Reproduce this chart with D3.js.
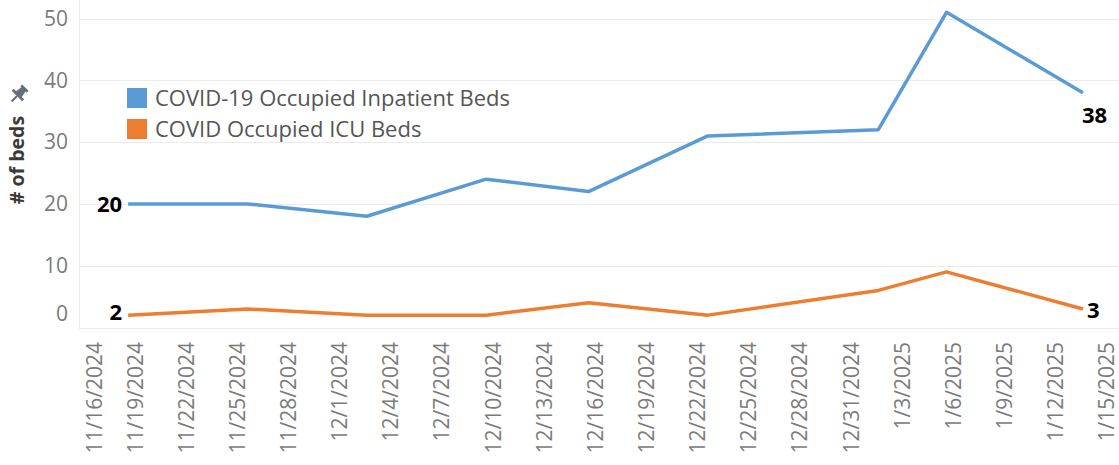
<!DOCTYPE html>
<html>
<head>
<meta charset="utf-8">
<script src="https://cdn.jsdelivr.net/npm/d3@7"></script>
<style>
  body { margin: 0; background: #fff; }
  svg { display: block; font-family: "Open Sans", "Noto Sans", sans-serif; }
</style>
</head>
<body>
<div id="chart"></div>
<script>
// data
var dates = ["11/19/2024", "11/26/2024", "12/3/2024", "12/10/2024", "12/16/2024",
             "12/23/2024", "1/2/2025", "1/6/2025", "1/14/2025"];
var inpatient = [20, 20, 18, 24, 22, 31, 32, 51, 38];
var icu = [2, 3, 2, 2, 4, 2, 6, 9, 3];
var seriesNames = ["COVID-19 Occupied Inpatient Beds", "COVID Occupied ICU Beds"];
var seriesColors = ["#5b9bd5", "#ed7d31"];
var yTicks = [0, 10, 20, 30, 40, 50];
var xTickLabels = ["11/16/2024", "11/19/2024", "11/22/2024", "11/25/2024", "11/28/2024",
                   "12/1/2024", "12/4/2024", "12/7/2024", "12/10/2024", "12/13/2024",
                   "12/16/2024", "12/19/2024", "12/22/2024", "12/25/2024", "12/28/2024",
                   "12/31/2024", "1/3/2025", "1/6/2025", "1/9/2025", "1/12/2025", "1/15/2025"];

var width = 1119, height = 465;
var parse = d3.timeParse("%m/%d/%Y");

var x = d3.scaleTime()
          .domain([parse("11/16/2024"), parse("1/16/2025")])
          .range([77, 1117]);
var y = d3.scaleLinear()
          .domain([0, 50])
          .range([327.5, 18.5]);

var svg = d3.select("#chart").append("svg")
            .attr("width", width)
            .attr("height", height);

// gridlines
svg.append("g").selectAll("line")
   .data(yTicks)
   .enter().append("line")
   .attr("x1", 79).attr("x2", width)
   .attr("y1", function(d) { return Math.round(y(d)) + 0.5; })
   .attr("y2", function(d) { return Math.round(y(d)) + 0.5; })
   .attr("stroke", "#ebebeb")
   .attr("stroke-width", 1);

// pane left border
svg.append("line")
   .attr("x1", 79.5).attr("x2", 79.5)
   .attr("y1", 0).attr("y2", 328)
   .attr("stroke", "#ebebeb");

// y tick labels (the 0 label is pushed up to stay in the pane)
svg.append("g").selectAll("text")
   .data(yTicks)
   .enter().append("text")
   .attr("x", 68)
   .attr("y", function(d) { return Math.min(y(d), y(0) - 14); })
   .attr("dy", "0.35em")
   .attr("text-anchor", "end")
   .attr("font-size", 21)
   .attr("fill", "#7b7b7b")
   .text(function(d) { return d; });

// x tick labels, rotated
svg.append("g").selectAll("text")
   .data(xTickLabels)
   .enter().append("text")
   .attr("transform", function(d) {
     var px = Math.max(x(parse(d)) + 7, 95);
     return "translate(" + px + ",342) rotate(-90)";
   })
   .attr("dy", "0.35em")
   .attr("text-anchor", "end")
   .attr("font-size", 21)
   .attr("fill", "#7b7b7b")
   .text(function(d) { return d; });

// y axis title + pin
svg.append("text")
   .attr("transform", "translate(17,160) rotate(-90)")
   .attr("dy", "0.35em")
   .attr("text-anchor", "middle")
   .attr("font-size", 19.5)
   .attr("font-weight", "bold")
   .attr("fill", "#3a3a3a")
   .text("# of beds");

var pin = svg.append("g")
   .attr("transform", "translate(18,95) rotate(45) scale(1.3)")
   .attr("fill", "#646e7c");
pin.append("path")
   .attr("d", "M-3.5,-8 h7 v2 h-1.2 l0.8,5 h2.6 v2.2 h-11.4 v-2.2 h2.6 l0.8,-5 h-1.2 z");
pin.append("rect")
   .attr("x", -0.8).attr("y", 1).attr("width", 1.6).attr("height", 6);

// lines
var seriesData = [inpatient, icu];
var line = d3.line()
             .x(function(d, i) { return x(parse(dates[i])); })
             .y(function(d) { return y(d); });

svg.append("g").selectAll("path")
   .data(seriesData)
   .enter().append("path")
   .attr("d", line)
   .attr("fill", "none")
   .attr("stroke", function(d, i) { return seriesColors[i]; })
   .attr("stroke-width", 3.5)
   .attr("stroke-linejoin", "round");

// start / end labels
var last = dates.length - 1;
var labels = [
  {v: inpatient[0], x: x(parse(dates[0])) - 6, y: y(inpatient[0]), anchor: "end"},
  {v: icu[0], x: x(parse(dates[0])) - 6, y: y(icu[0]) - 3, anchor: "end"},
  {v: inpatient[last], x: x(parse(dates[last])) - 1, y: y(inpatient[last]) + 23, anchor: "start"},
  {v: icu[last], x: x(parse(dates[last])) + 4, y: y(icu[last]) + 1, anchor: "start"}
];
svg.append("g").selectAll("text")
   .data(labels)
   .enter().append("text")
   .attr("x", function(d) { return d.x; })
   .attr("y", function(d) { return d.y; })
   .attr("dy", "0.35em")
   .attr("text-anchor", function(d) { return d.anchor; })
   .attr("font-size", 22)
   .attr("font-weight", "bold")
   .attr("fill", "#000")
   .text(function(d) { return d.v; });

// legend
var legend = svg.append("g").selectAll("g")
   .data(seriesNames)
   .enter().append("g")
   .attr("transform", function(d, i) { return "translate(127," + (88 + i * 31) + ")"; });
legend.append("rect")
   .attr("width", 20).attr("height", 20)
   .attr("fill", function(d, i) { return seriesColors[i]; });
legend.append("text")
   .attr("x", 28).attr("y", 10)
   .attr("dy", "0.35em")
   .attr("font-size", 22)
   .attr("fill", "#555")
   .text(function(d) { return d; });
</script>
</body>
</html>
